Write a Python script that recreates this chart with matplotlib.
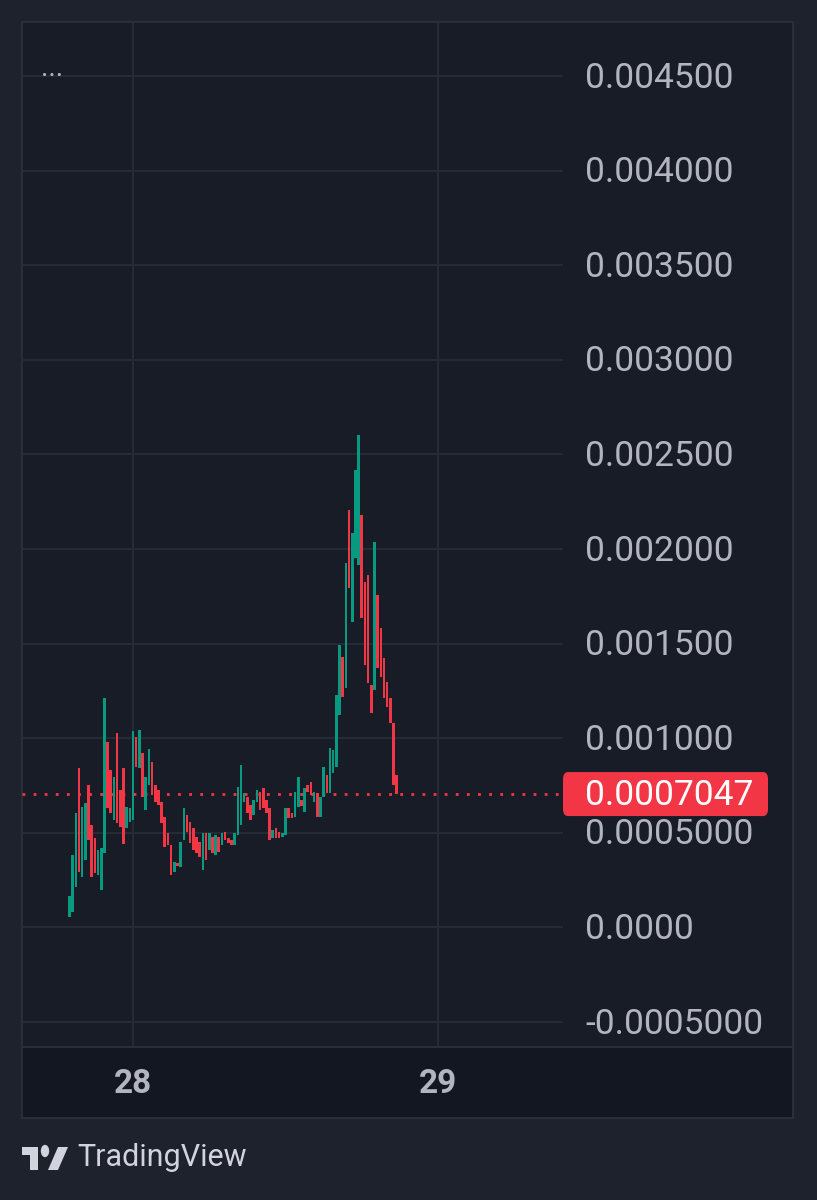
import numpy as np
import matplotlib.pyplot as plt
from matplotlib.patches import Rectangle, FancyBboxPatch, Polygon, Circle

# 15 minute candles, prices in units of 1e-6
opens = [55, 81, 214, 842, 266, 356, 753, 541, 472, 277,
         198, 393, 980, 832, 568, 1027, 726, 842, 525, 557,
         568, 1006, 842, 922, 620, 753, 874, 753, 726, 663,
         583, 499, 435, 293, 340, 319, 462, 594, 557, 525,
         478, 451, 303, 499, 409, 478, 383, 478, 435, 504,
         472, 462, 435, 488, 541, 663, 689, 647, 594, 663,
         716, 737, 673, 631, 472, 525, 504, 478, 488, 631,
         605, 583, 636, 673, 610, 753, 768, 663, 710, 583,
         689, 805, 710, 816, 848, 1123, 1429, 1265, 2206, 1614,
         1952, 1915, 2180, 1825, 1862, 1281, 1255, 1757, 1582, 1424,
         1297, 1212, 1080, 805]
closes = [166, 383, 605, 293, 636, 657, 462, 266, 288, 409,
          420, 1212, 631, 605, 795, 552, 531, 441, 636, 631,
          1038, 848, 1043, 689, 795, 943, 700, 663, 647, 552,
          425, 435, 277, 346, 324, 451, 631, 504, 446, 409,
          393, 372, 499, 356, 499, 393, 488, 398, 499, 462,
          446, 435, 499, 742, 858, 710, 605, 568, 673, 726,
          620, 631, 605, 462, 515, 472, 472, 499, 631, 578,
          578, 716, 795, 642, 737, 716, 700, 716, 583, 689,
          848, 710, 948, 938, 1228, 1492, 1218, 1926, 1794, 2084,
          2417, 2602, 1635, 1387, 1292, 1133, 2037, 1371, 1323, 1212,
          1165, 1080, 753, 704.7]
start_day = 27 + 19 / 24  # 27th, 19:00
last_price = 0.0007047

price_ticks = [0.0045, 0.004, 0.0035, 0.003, 0.0025, 0.002, 0.0015, 0.001,
               0.0005, 0.0, -0.0005]
price_labels = ['0.004500', '0.004000', '0.003500', '0.003000', '0.002500',
                '0.002000', '0.001500', '0.001000', '0.0005000', '0.0000',
                '-0.0005000']
day_ticks = [28, 29]
day_labels = ['28', '29']

opens = np.array(opens) * 1e-6
closes = np.array(closes) * 1e-6
t = start_day + np.arange(len(opens)) / 96

W, H = 817, 1200
outer_bg = '#1e222d'
panel_bg = '#181c27'
time_bg = '#131722'
grid_c = '#262a35'
border_c = '#2a2e39'
text_c = '#b2b5be'
up_c = '#089981'
down_c = '#f23645'
fam = ['Roboto', 'DejaVu Sans']


def fx(x):
    return x / W


def fy(y):
    return 1 - y / H


fig = plt.figure(figsize=(W / 100, H / 100), dpi=100)
fig.patch.set_facecolor(outer_bg)

# panel + time axis strip (behind the axes)
fig.patches.append(Rectangle((fx(22), fy(1118)), fx(793) - fx(22), fy(22) - fy(1118),
                             transform=fig.transFigure, facecolor=panel_bg,
                             edgecolor=border_c, linewidth=1.5, zorder=-10))
fig.patches.append(Rectangle((fx(22), fy(1118)), fx(793) - fx(22), fy(1047) - fy(1118),
                             transform=fig.transFigure, facecolor=time_bg,
                             edgecolor=border_c, linewidth=1.5, zorder=-9))

ax = fig.add_axes([fx(22), fy(1047), fx(563) - fx(22), fy(22) - fy(1047)])
ax.set_facecolor('none')
x0 = 28 - (133 - 22) / 305
x1 = 28 + (563 - 133) / 305
ax.set_xlim(x0, x1)
p_per_px = 0.0005 / 94.6
ax.set_ylim((927.4 - 1047) * p_per_px, (927.4 - 22) * p_per_px)
for s in ax.spines.values():
    s.set_visible(False)
ax.set_xticks([])
ax.set_yticks([])

for p in price_ticks:
    ax.axhline(p, color=grid_c, linewidth=1.5, zorder=1)
for d in day_ticks:
    ax.axvline(d, color=grid_c, linewidth=1.5, zorder=1)

colors = [up_c if c >= o else down_c for o, c in zip(opens, closes)]
heights = closes - opens
heights = np.where(np.abs(heights) < 8e-6, np.sign(heights + 1e-12) * 8e-6, heights)
ax.bar(t, heights, bottom=opens, width=0.0085, color=colors, linewidth=0, zorder=3)

ax.axhline(last_price, color=down_c, linewidth=2, linestyle=(0, (1, 3)), zorder=2)

# price scale labels
for p, lab in zip(price_ticks, price_labels):
    y = fy(927.4 - p / p_per_px + 2)
    fig.text(fx(585), y, lab, color=text_c, fontsize=25.5, family=fam,
             ha='left', va='center')

# last price tag
ytag = 927.4 - last_price / p_per_px
fig.patches.append(FancyBboxPatch((fx(563), fy(ytag + 22)), fx(768) - fx(563), fy(ytag - 22) - fy(ytag + 22),
                                  boxstyle='round,pad=0,rounding_size=0.006',
                                  transform=fig.transFigure, facecolor=down_c,
                                  edgecolor='none', zorder=5))
fig.text(fx(585), fy(ytag + 1), '{:.7f}'.format(last_price), color='white', fontsize=25.5,
         family=fam, ha='left', va='center', zorder=6)

# time axis labels
for d, lab in zip(day_ticks, day_labels):
    xp = 133 + (d - 28) * 305
    fig.text(fx(xp), fy(1084), lab, color=text_c, fontsize=24, family=fam,
             fontweight='bold', ha='center', va='center')

fig.text(fx(41), fy(68), '...', color=text_c, fontsize=20, family=fam,
         ha='left', va='center')

# TradingView logo
logo_c = '#d1d4dc'
fig.patches.append(Rectangle((fx(22), fy(1155)), fx(38) - fx(22), fy(1147) - fy(1155),
                             transform=fig.transFigure, facecolor=logo_c, edgecolor='none'))
fig.patches.append(Rectangle((fx(30), fy(1170)), fx(38) - fx(30), fy(1147) - fy(1170),
                             transform=fig.transFigure, facecolor=logo_c, edgecolor='none'))
fig.patches.append(Circle((fx(45), fy(1151)), 4.2 / W, transform=fig.transFigure,
                          facecolor=logo_c, edgecolor='none'))
fig.patches.append(Polygon([(fx(58), fy(1147)), (fx(68), fy(1147)), (fx(58), fy(1170)),
                            (fx(48), fy(1170))], closed=True, transform=fig.transFigure,
                           facecolor=logo_c, edgecolor='none'))
fig.text(fx(77), fy(1158), 'TradingView', color=logo_c, fontsize=22, family=fam,
         ha='left', va='center')

fig.savefig('out.png', dpi=100, facecolor=fig.get_facecolor())
